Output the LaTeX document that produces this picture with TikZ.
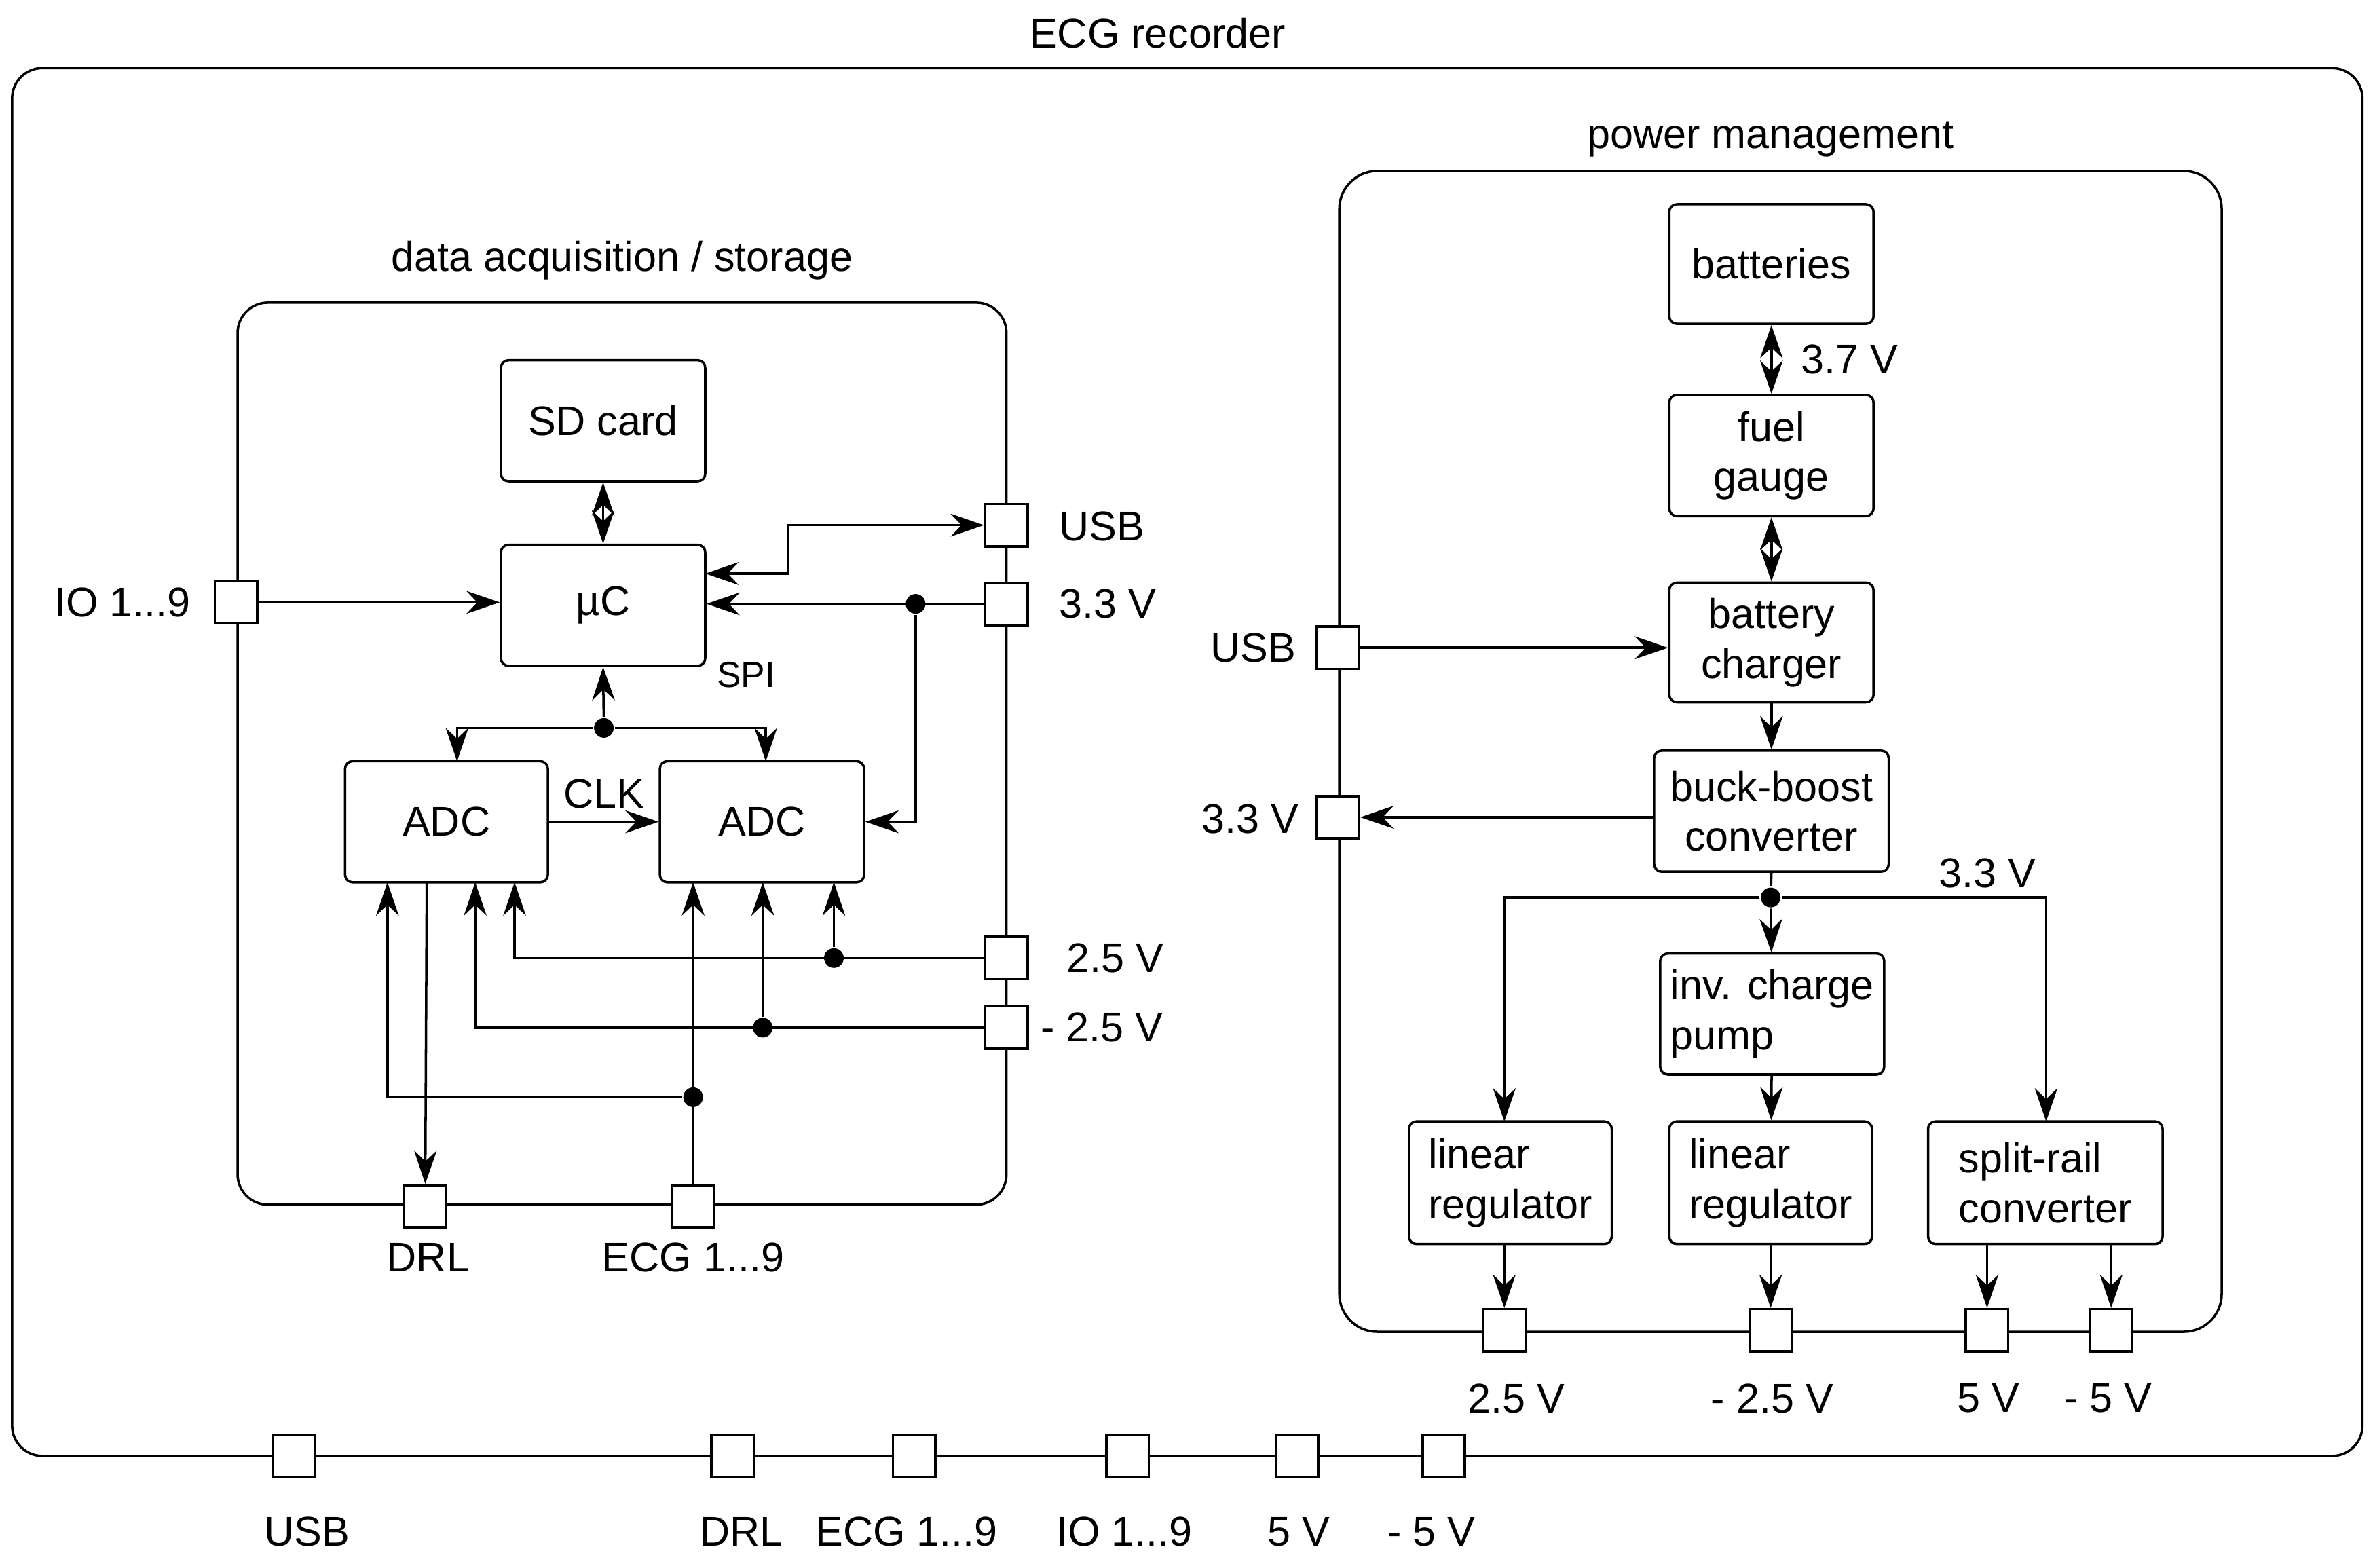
\documentclass[tikz,border=0pt]{standalone}
\usepackage{fontspec}
\setmainfont{Liberation Sans}
\usetikzlibrary{arrows.meta}
\begin{document}
\begin{tikzpicture}[x=0.1mm,y=-0.1mm,line width=0.45pt,font=\fontsize{7.8}{9.4}\selectfont,
  >={Stealth[length=2.2mm,width=1.5mm]},
  blk/.style={draw,rounded corners=0.5mm,align=center,inner sep=1pt},
  port/.style={draw,fill=white,minimum size=2.8mm,inner sep=0pt},
  dot/.style={circle,fill,inner sep=0pt,minimum size=1.3mm}]
\useasboundingbox (0,0) rectangle (1568,1036);

% frames
\draw[rounded corners=2mm] (8,45) rectangle (1561,962);
\node (title) at (765,22) {ECG recorder};
\draw[rounded corners=2mm] (157,200) rectangle (665,796);
\node (dtitle) at (411,172) {data acquisition / storage};
\draw[rounded corners=2.5mm] (885,113) rectangle (1468,880);
\node (ptitle) at (1170,92) {power management};

% data acquisition blocks
\node[blk,minimum width=13.5mm,minimum height=8mm] (sd) at (398.5,278) {SD card};
\node[blk,minimum width=13.5mm,minimum height=8mm] (uc) at (398.5,400) {µC};
\node[blk,minimum width=13.4mm,minimum height=8mm] (adca) at (295,543) {ADC};
\node[blk,minimum width=13.5mm,minimum height=8mm] (adcb) at (503.5,543) {ADC};

% data acquisition ports
\node[port] (pio) at (156,398) {};
\node[port] (pusb) at (665,347) {};
\node[port] (p33) at (665,399) {};
\node[port] (p25) at (665,633) {};
\node[port] (pm25) at (665,679) {};
\node[port] (pdrl) at (281,797) {};
\node[port] (pecg) at (458,797) {};
\node (lio) at (81,398) {IO 1...9};
\node (lusb) at (728,348) {USB};
\node (l33) at (732,399) {3.3 V};
\node (l25) at (737,633) {2.5 V};
\node (lm25) at (728,679) {- 2.5 V};
\node (ldrl) at (283,831) {DRL};
\node (lecg) at (458,831) {ECG 1...9};

% data acquisition connections
\draw[<->] (sd) -- (uc);
\draw[->] (pio) -- (uc.west |- pio);
\draw[<->] (pusb.west) -- (521,347) -- (521,379) -- (466,379);
\draw[->] (p33.west) -- (uc.east |- p33);
\node[dot] (d33) at (605,399) {};
\draw[->] (d33) -- (605,543) -- (adcb.east |- 0,543);
\node[dot] (dspi) at (399,481) {};
\draw[->] (dspi) -- (uc.south);
\draw[->] (dspi) -- (302,481) -- (302,503);
\draw[->] (dspi) -- (506,481) -- (506,503);
\node (lspi) at (493,446) {\fontsize{6.8}{8}\selectfont SPI};
\draw[->] (adca) -- node[above=-1pt] {CLK} (adcb);
\draw[->] (p25.west) -- (340,633) -- (340,583);
\node[dot] (d25) at (551,633) {};
\draw[->] (d25) -- (551,583);
\draw[->] (pm25.west) -- (314,679) -- (314,583);
\node[dot] (dm25) at (504,679) {};
\draw[->] (dm25) -- (504,583);
\draw[->] (pecg.north) -- (458,583);
\node[dot] (decg) at (458,725) {};
\draw[->] (decg) -- (256,725) -- (256,583);
\draw[->] (282,583) -- (pdrl.north);

% power blocks
\node[blk,minimum width=13.5mm,minimum height=7.9mm] (bat) at (1170.5,174.5) {batteries};
\node[blk,minimum width=13.5mm,minimum height=8mm] (fuel) at (1170.5,301) {fuel\\gauge};
\node[blk,minimum width=13.5mm,minimum height=7.9mm] (chg) at (1170.5,424.5) {battery\\charger};
\node[blk,minimum width=15.5mm,minimum height=8mm] (buck) at (1170.5,536) {buck-boost\\converter};
\node[blk,minimum width=14.8mm,minimum height=8mm,align=left] (inv) at (1171,670) {inv. charge\\pump};
\node[blk,minimum width=13.4mm,minimum height=8.1mm,align=left] (lina) at (998,781.5) {linear\\regulator};
\node[blk,minimum width=13.4mm,minimum height=8.1mm,align=left] (linb) at (1170,781.5) {linear\\regulator};
\node[blk,minimum width=15.5mm,minimum height=8.1mm,align=left] (split) at (1351.5,781.5) {split-rail\\converter};

% power ports
\node[port] (qusb) at (884,428) {};
\node[port] (q33) at (884,540) {};
\node[port] (q25) at (994,879) {};
\node[port] (qm25) at (1170,879) {};
\node[port] (q5) at (1313,879) {};
\node[port] (qm5) at (1395,879) {};
\node (musb) at (828,428) {USB};
\node (m33) at (826,541) {3.3 V};
\node (m25) at (1002,924) {2.5 V};
\node (mm25) at (1171,924) {- 2.5 V};
\node (m5) at (1314,924) {5 V};
\node (mm5) at (1393,924) {- 5 V};

% power connections
\draw[<->] (bat) -- node[right=2pt] {3.7 V} (fuel);
\draw[<->] (fuel) -- (chg);
\draw[->] (qusb.east) -- (chg.west |- qusb);
\draw[->] (chg) -- (buck);
\draw[->] (buck.west |- q33) -- (q33.east);
\node[dot] (dbus) at (1170,593) {};
\draw (buck.south) -- (dbus);
\draw[->] (dbus) -- (inv);
\draw[->] (dbus) -- (994,593) -- (994,741);
\draw[->] (dbus) -- (1352,593) -- (1352,741);
\node (lbus) at (1313,577) {3.3 V};
\draw[->] (inv) -- (linb);
\draw[->] (994,822) -- (q25.north);
\draw[->] (linb) -- (qm25);
\draw[->] (1313,822) -- (q5.north);
\draw[->] (1395,822) -- (qm5.north);

% outer ports
\foreach \x/\lx/\n/\t in {194/203/usb/{USB},484/490/drl/{DRL},604/599/ecg/{ECG 1...9},745/743/io/{IO 1...9},857/858/five/{5 V},954/946/mfive/{- 5 V}}{
  \node[port] (o\n) at (\x,962) {};
  \node (t\n) at (\lx,1012) {\t};
}
\end{tikzpicture}
\end{document}
